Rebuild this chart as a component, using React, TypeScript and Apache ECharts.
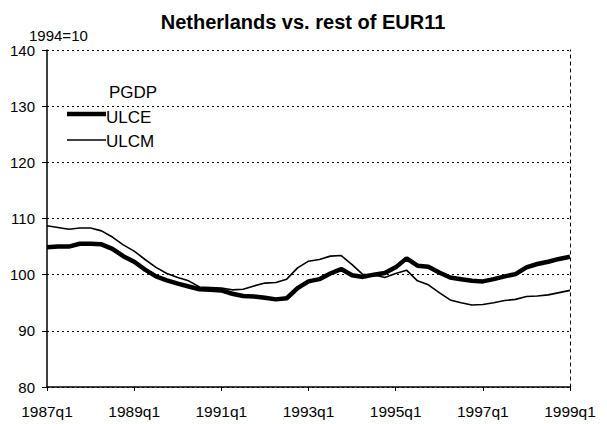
import React, { useEffect, useRef } from "react";
import * as echarts from "echarts";

const quarters: string[] = [];
for (let y = 1987; y <= 1999; y++) {
  for (let q = 1; q <= 4; q++) {
    if (y === 1999 && q > 1) break;
    quarters.push(`${y}q${q}`);
  }
}

const ulce = [
  104.9, 105.0, 105.0, 105.5, 105.5, 105.4, 104.6, 103.3,
  102.3, 100.9, 99.7, 99.0, 98.4, 97.9, 97.4, 97.3,
  97.2, 96.6, 96.2, 96.1, 95.9, 95.6, 95.8, 97.6,
  98.8, 99.2, 100.2, 101.0, 99.9, 99.6, 100.0, 100.3,
  101.3, 102.9, 101.6, 101.4, 100.4, 99.5, 99.2, 98.9,
  98.8, 99.2, 99.7, 100.1, 101.3, 101.9, 102.3, 102.8,
  103.2,
];

const ulcm = [
  108.7, 108.4, 108.1, 108.3, 108.3, 107.8, 106.7, 105.3,
  104.2, 102.7, 101.3, 100.2, 99.5, 98.9, 97.8, 97.7,
  97.6, 97.3, 97.4, 98.0, 98.5, 98.6, 99.2, 101.2,
  102.4, 102.7, 103.3, 103.4, 101.8, 100.0, 100.0, 99.5,
  100.2, 100.8, 98.9, 98.2, 96.8, 95.5, 95.0, 94.6,
  94.7, 95.0, 95.4, 95.6, 96.1, 96.2, 96.4, 96.8,
  97.2,
];

const seriesNames = ["ULCE", "ULCM"];
const titleText = "Netherlands vs. rest of EUR11";
const unitText = "1994=10";
const legendHeader = "PGDP";
const FONT = "'Liberation Sans', Arial, sans-serif";

export default function App() {
  const ref = useRef<HTMLDivElement>(null);
  useEffect(() => {
    if (!ref.current) return;
    const chart = echarts.init(ref.current, null, { renderer: "svg" });
    const txt = (s: string, x: number, y: number, size: number) => ({
      type: "text",
      x,
      y,
      style: {
        text: s,
        fontFamily: FONT,
        fontSize: size,
        fill: "#000",
        textVerticalAlign: "middle",
        verticalAlign: "middle",
      },
    });
    chart.setOption({
      animation: false,
      backgroundColor: "#fff",
      textStyle: { fontFamily: FONT, color: "#000" },
      title: {
        text: titleText,
        left: 298,
        textAlign: "center",
        top: 7,
        textStyle: { fontFamily: FONT, fontSize: 20, fontWeight: "bold", color: "#000" },
      },
      graphic: [
        txt(unitText, 29, 35, 15),
        txt(legendHeader, 109, 92, 17),
        {
          type: "line",
          shape: { x1: 67, y1: 114, x2: 106, y2: 114 },
          style: { stroke: "#000", lineWidth: 4.5 },
        },
        txt(seriesNames[0], 106, 117, 17),
        {
          type: "line",
          shape: { x1: 67, y1: 140, x2: 106, y2: 140 },
          style: { stroke: "#000", lineWidth: 1.6 },
        },
        txt(seriesNames[1], 106, 141, 17),
      ],
      grid: { left: 47, right: 37, top: 50, bottom: 37 },
      xAxis: {
        type: "category",
        data: quarters,
        boundaryGap: false,
        axisLine: { show: true, lineStyle: { color: "#000", width: 1.5 } },
        axisTick: { show: true, interval: 7, length: 4, lineStyle: { color: "#000" } },
        axisLabel: {
          interval: 7,
          margin: 16,
          fontFamily: FONT,
          fontSize: 15.5,
          color: "#000",
        },
        splitLine: { show: false },
      },
      yAxis: [
        {
          type: "value",
          min: 80,
          max: 140,
          interval: 10,
          axisLine: { show: true, lineStyle: { color: "#000", width: 1.5 } },
          axisTick: { show: true, length: 5, lineStyle: { color: "#000" } },
          axisLabel: { margin: 12, fontFamily: FONT, fontSize: 15, color: "#000" },
          splitLine: { show: true, lineStyle: { color: "#000", type: [2, 3], width: 1 } },
        },
        {
          type: "value",
          min: 80,
          max: 140,
          interval: 10,
          position: "right",
          axisLine: { show: true, lineStyle: { color: "#000", type: [3, 4], width: 1 } },
          axisTick: { show: false },
          axisLabel: { show: false },
          splitLine: { show: false },
        },
      ],
      series: [
        {
          name: seriesNames[0],
          type: "line",
          data: ulce,
          showSymbol: false,
          symbol: "none",
          lineStyle: { color: "#000", width: 4.5 },
          itemStyle: { color: "#000" },
        },
        {
          name: seriesNames[1],
          type: "line",
          data: ulcm,
          showSymbol: false,
          symbol: "none",
          lineStyle: { color: "#000", width: 1.6 },
          itemStyle: { color: "#000" },
        },
      ],
    });
    return () => chart.dispose();
  }, []);
  return <div ref={ref} style={{ width: 607, height: 424, position: "absolute", left: 0, top: 0 }} />;
}
